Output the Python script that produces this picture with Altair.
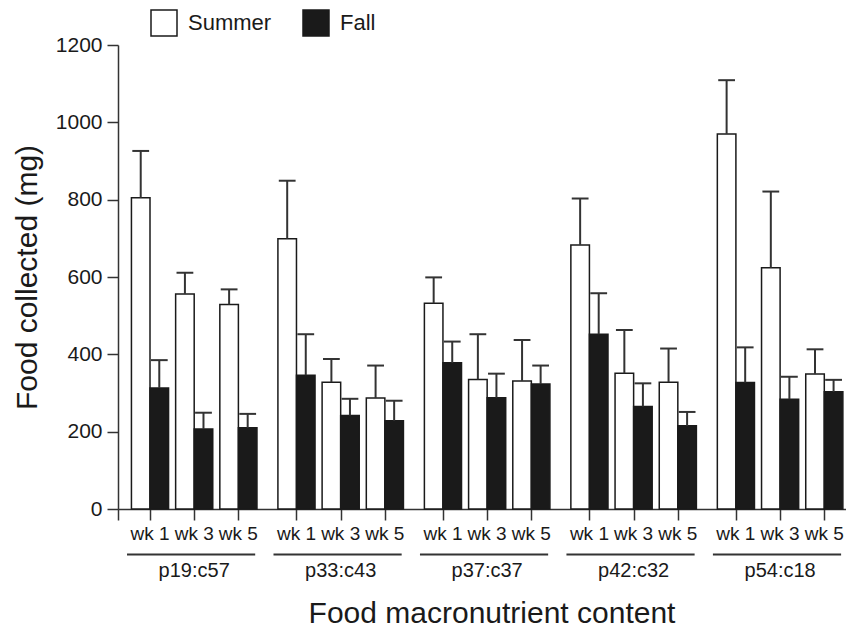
import altair as alt
import pandas as pd

# ---- data ----
groups = ["p19:c57", "p33:c43", "p37:c37", "p42:c32", "p54:c18"]
weeks = ["wk 1", "wk 3", "wk 5"]
seasons = ["Summer", "Fall"]

summer_mean = [805, 556, 529, 699, 328, 287, 532, 335, 331, 683, 351, 328, 970, 624, 349]
summer_se = [121, 55, 39, 150, 60, 84, 67, 117, 106, 120, 112, 87, 139, 197, 64]
fall_mean = [313, 207, 210, 346, 242, 228, 378, 288, 323, 452, 265, 215, 327, 284, 303]
fall_se = [72, 42, 36, 106, 43, 52, 55, 62, 48, 106, 60, 36, 91, 58, 31]

# ---- layout constants ----
GROUP_STEP = 3.314   # distance between groups, in week units
HALF = 0.42          # bar width (week units)
CAP = 0.19           # half width of error caps
X_MIN, X_MAX = -0.724, 15.747
FONT = "Liberation Sans"
INK = "#1a1a1a"

rows, week_rows, group_rows = [], [], []
for gi, g in enumerate(groups):
    poss = []
    for wi, w in enumerate(weeks):
        i = gi * 3 + wi
        pos = gi * GROUP_STEP + wi
        poss.append(pos)
        week_rows.append(dict(group=g, week=w, pos=pos))
        for season, means, ses in [("Summer", summer_mean, summer_se), ("Fall", fall_mean, fall_se)]:
            if season == "Summer":
                x0, x1 = pos - HALF, pos
            else:
                x0, x1 = pos, pos + HALF
            c = (x0 + x1) / 2
            rows.append(dict(group=g, week=w, season=season, pos=pos, x0=x0, x1=x1,
                             c=c, cl=c - CAP, cr=c + CAP,
                             mean=means[i], top=means[i] + ses[i]))
    group_rows.append(dict(group=g, start=poss[0] - 0.52, end=poss[2] + 0.38, mid=poss[1]))

df = pd.DataFrame(rows)
wk = pd.DataFrame(week_rows)
gr = pd.DataFrame(group_rows)

XT = "Food macronutrient content"
YT = "Food collected (mg)"

xscale = alt.Scale(domain=[X_MIN, X_MAX], nice=False, zero=False)
yscale = alt.Scale(domain=[0, 1200], nice=False)

xaxis = alt.Axis(values=[X_MIN] + list(wk["pos"]), labels=False, tickSize=11,
                 tickColor="#333", tickWidth=1.5, domainColor="#333", domainWidth=1.5,
                 grid=False, title=XT, titleFont=FONT,
                 titleFontSize=30, titleFontWeight="normal", titleColor=INK,
                 titleX=373.5, titleY=113, titleAlign="center", titleBaseline="alphabetic")
yaxis = alt.Axis(values=list(range(0, 1201, 100)), format="d",
                 labelExpr="datum.value % 200 == 0 ? datum.label : ''",
                 tickSize=11, tickColor="#333", tickWidth=1.5, domainColor="#333",
                 domainWidth=1.5, grid=False, labelFont=FONT, labelFontSize=21,
                 labelPadding=5, labelColor=INK,
                 title=YT, titleFont=FONT, titleFontSize=30,
                 titleFontWeight="normal", titleColor=INK, titleX=-82, titleY=232,
                 titleAngle=-90, titleAlign="center", titleBaseline="alphabetic")


def X(field):
    return alt.X(field, scale=xscale, axis=xaxis, title=XT)


def Y(field):
    return alt.Y(field, scale=yscale, axis=yaxis, title=YT, stack=None)


base = alt.Chart(df)

bars = base.mark_bar(stroke=INK, strokeWidth=1.5).encode(
    x=X("x0:Q"),
    x2="x1:Q",
    y=Y("mean:Q"),
    y2=alt.datum(0),
    fill=alt.Fill("season:N",
                  scale=alt.Scale(domain=seasons, range=["white", INK]),
                  legend=alt.Legend(title=None, orient="none", legendX=32, legendY=-36,
                                    direction="horizontal", symbolType="square",
                                    symbolSize=676, symbolStrokeColor=INK,
                                    symbolStrokeWidth=1.5, labelFont=FONT,
                                    labelFontSize=22, labelOffset=10, columnPadding=28,
                                    labelColor=INK, padding=0)),
)

err = base.mark_rule(color="#333", strokeWidth=2).encode(
    x=X("c:Q"),
    y=Y("mean:Q"),
    y2="top:Q",
)

caps = base.mark_rule(color="#333", strokeWidth=2).encode(
    x=X("cl:Q"),
    x2="cr:Q",
    y=Y("top:Q"),
)

week_text = alt.Chart(wk).mark_text(font=FONT, fontSize=19, dy=31, baseline="alphabetic",
                                    color=INK).encode(
    x=X("pos:Q"),
    y=alt.datum(0),
    text="week:N",
)

group_lines = alt.Chart(gr).mark_rule(color="#333", strokeWidth=2).encode(
    x=X("start:Q"),
    x2="end:Q",
    y=alt.value(509.5),
)

group_text = alt.Chart(gr).mark_text(font=FONT, fontSize=20, dy=68, baseline="alphabetic",
                                     color=INK).encode(
    x=X("mid:Q"),
    y=alt.datum(0),
    text="group:N",
)

chart = alt.layer(bars, err, caps, week_text, group_lines, group_text).properties(
    width=728, height=464,
    padding={"left": 110, "top": 37, "right": 0, "bottom": 121},
    autosize=alt.AutoSizeParams(type="none"),
    background="white",
).configure_view(stroke=None)

chart.save("out.html", embed_options={"renderer": "svg", "actions": False})
